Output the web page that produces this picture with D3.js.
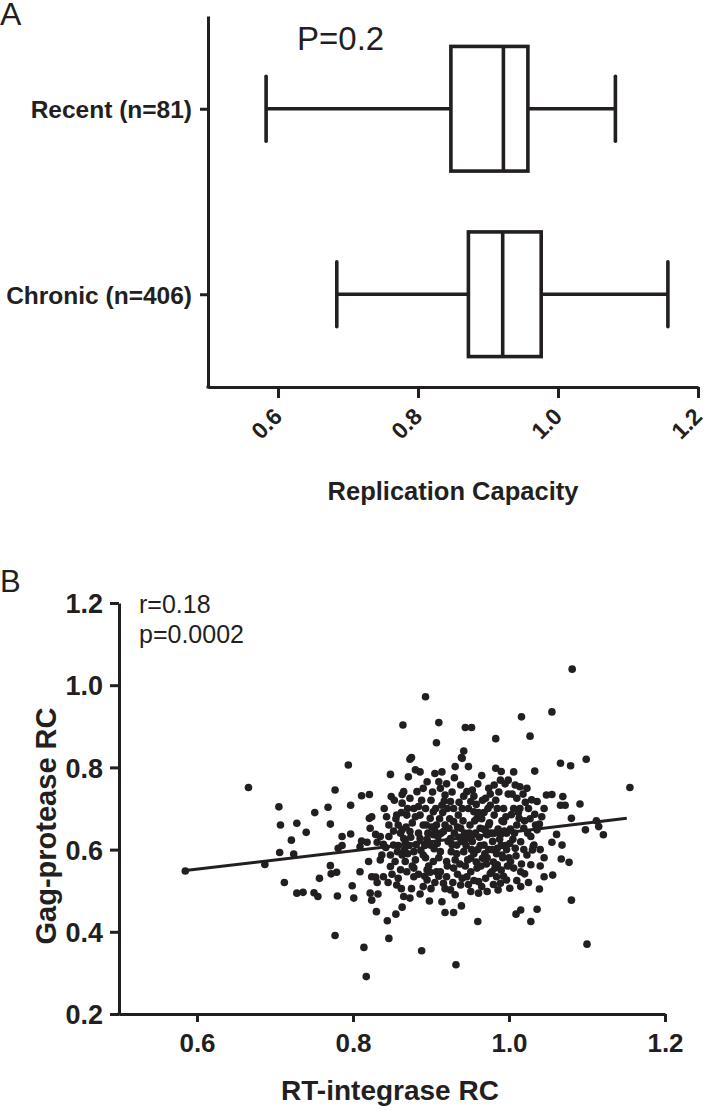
<!DOCTYPE html>
<html>
<head>
<meta charset="utf-8">
<script src="https://cdn.jsdelivr.net/npm/d3@7"></script>
<style>
  html, body { margin: 0; padding: 0; background: #ffffff; }
  svg { display: block; }
  text { font-family: "Liberation Sans", Arial, Helvetica, sans-serif; fill: #231f20; }
</style>
</head>
<body>
<script>
// ---------------- Panel A data (box plots) ----------------
const groups = ["Recent (n=81)", "Chronic (n=406)"];
const whiskerLow  = [0.583, 0.684];
const quartile1   = [0.847, 0.872];
const medians     = [0.922, 0.921];
const quartile3   = [0.957, 0.976];
const whiskerHigh = [1.082, 1.157];
const xTicksA = [0.6, 0.8, 1.0, 1.2];
const pLabelA = "P=0.2";
const xTitleA = "Replication Capacity";

// ---------------- Panel B data (scatter) ----------------
const xTicksB = [0.6, 0.8, 1.0, 1.2];
const yTicksB = [0.2, 0.4, 0.6, 0.8, 1.0, 1.2];
const statsB = ["r=0.18", "p=0.0002"];
const xTitleB = "RT-integrase RC";
const yTitleB = "Gag-protease RC";
// regression line end points [RT-integrase RC, Gag-protease RC]
const fitLine = [[0.585, 0.549], [1.151, 0.676]];
// points: [RT-integrase RC, Gag-protease RC]
const rtVsGag = [
 [0.585,0.548],[0.666,0.751],[0.687,0.564],[0.705,0.704],[0.707,0.660],[0.706,0.593],[0.712,0.520],
 [0.721,0.623],[0.724,0.589],[0.728,0.664],[0.728,0.494],[0.736,0.496],[0.740,0.642],[0.750,0.495],
 [0.755,0.486],[0.751,0.690],[0.757,0.530],[0.768,0.703],[0.771,0.662],[0.771,0.561],[0.777,0.745],
 [0.777,0.391],[0.772,0.541],[0.779,0.545],[0.780,0.487],[0.781,0.603],[0.786,0.610],[0.786,0.632],
 [0.794,0.806],[0.797,0.708],[0.797,0.638],[0.799,0.512],[0.801,0.482],[0.809,0.607],[0.809,0.546],
 [0.811,0.731],[0.811,0.621],[0.814,0.362],[0.817,0.291],[0.818,0.618],[0.820,0.571],[0.821,0.734],
 [0.821,0.676],[0.822,0.652],[0.822,0.494],[0.824,0.680],[0.824,0.534],[0.824,0.477],[0.829,0.637],
 [0.829,0.533],[0.830,0.449],[0.831,0.618],[0.831,0.520],[0.832,0.492],[0.835,0.632],[0.837,0.587],
 [0.839,0.613],[0.839,0.534],[0.843,0.680],[0.844,0.427],[0.846,0.660],[0.846,0.632],[0.846,0.384],
 [0.848,0.783],[0.848,0.587],[0.848,0.559],[0.849,0.729],[0.852,0.611],[0.854,0.571],[0.855,0.443],
 [0.856,0.684],[0.856,0.514],[0.863,0.734],[0.863,0.713],[0.863,0.648],[0.863,0.587],[0.861,0.551],
 [0.867,0.619],[0.863,0.460],[0.865,0.486],[0.873,0.482],[0.886,0.492],[0.898,0.475],[0.914,0.473],
 [0.918,0.447],[0.929,0.447],[0.939,0.463],[0.888,0.354],[0.932,0.320],[0.960,0.425],[1.009,0.443],
 [1.015,0.453],[1.028,0.425],[1.036,0.455],[1.080,0.477],[1.100,0.370],[1.039,0.504],[1.020,0.541],
 [1.045,0.534],[1.056,0.538],
 [0.869,0.546],[0.878,0.534],[0.895,0.526],[0.907,0.546],[0.920,0.534],[0.916,0.518],[0.925,0.502],
 [0.931,0.490],[0.938,0.514],[0.946,0.534],[0.951,0.498],[0.961,0.494],[0.961,0.522],[0.972,0.498],
 [0.976,0.542],[0.984,0.534],[0.986,0.502],[0.989,0.518],[0.997,0.526],[1.001,0.506],
 [1.081,1.039],[0.893,0.972],[0.864,0.903],[0.910,0.909],[0.944,0.897],[0.952,0.897],[0.907,0.860],
 [1.016,0.923],[1.055,0.935],[0.983,0.870],[1.027,0.876],[0.942,0.840],[0.939,0.824],[0.875,0.824],
 [1.155,0.751],[1.066,0.810],[1.079,0.804],[1.099,0.820],[1.033,0.791],[1.048,0.733],[1.055,0.734],
 [1.069,0.729],[1.072,0.708],[1.066,0.708],[1.091,0.711],[1.080,0.676],[1.112,0.670],[1.115,0.656],
 [1.098,0.648],[1.121,0.636],[1.061,0.637],[1.055,0.618],[1.068,0.611],[1.067,0.577],[1.077,0.569],
 [1.033,0.686],[1.029,0.721],[1.036,0.717],
 [1.023,0.749],[1.014,0.753],[1.008,0.757],[0.999,0.769],[1.006,0.789],[0.983,0.798],[0.989,0.769],
 [0.981,0.757],[1.010,0.725],[1.006,0.700],[1.014,0.700],[1.013,0.676],[1.010,0.660],[1.019,0.652],
 [1.034,0.660],[1.036,0.648],[1.028,0.632],[1.032,0.611],[1.023,0.587],[1.030,0.599],[1.028,0.563],
 [1.015,0.619],[1.008,0.603],[1.002,0.571],[1.006,0.555],[1.015,0.546],[0.993,0.668],[0.989,0.636],
 [0.985,0.603],[0.991,0.587],[0.985,0.563],[0.978,0.546],[0.974,0.749],[0.970,0.725],[0.976,0.708],
 [0.981,0.684],[0.974,0.660],[0.972,0.636],[0.968,0.611],[0.966,0.579],[0.959,0.555],[0.951,0.546],
 [0.948,0.802],[0.940,0.822],[0.931,0.802],[0.914,0.789],[0.910,0.765],[0.912,0.749],[0.918,0.733],
 [0.925,0.717],[0.929,0.700],[0.935,0.684],[0.938,0.757],[0.946,0.741],[0.951,0.717],[0.955,0.692],
 [0.959,0.676],[0.963,0.652],[0.914,0.708],[0.903,0.692],[0.899,0.676],[0.907,0.660],[0.916,0.644],
 [0.925,0.627],[0.933,0.611],[0.942,0.595],[0.951,0.579],[0.946,0.627],[0.938,0.652],[0.929,0.668],
 [0.873,0.820],[0.880,0.794],[0.886,0.789],[0.871,0.777],[0.865,0.741],[0.873,0.725],[0.882,0.741],
 [0.890,0.749],[0.878,0.700],[0.869,0.684],[0.886,0.684],[0.894,0.660],[0.903,0.636],[0.899,0.611],
 [0.886,0.627],[0.873,0.644],[0.865,0.627],[0.878,0.595],[0.890,0.587],[0.903,0.571],[0.912,0.595],
 [0.920,0.571],[0.929,0.555],[0.912,0.546],[0.895,0.551],[0.878,0.555],[0.867,0.571],
 [0.870,0.700],[0.876,0.665],[0.884,0.640],[0.892,0.610],[0.880,0.575],[0.893,0.700],[0.900,0.720],
 [0.905,0.645],[0.908,0.615],[0.897,0.560],[0.910,0.580],[0.915,0.690],[0.918,0.660],[0.922,0.620],
 [0.921,0.560],[0.927,0.740],[0.930,0.640],[0.933,0.590],[0.936,0.715],[0.937,0.565],[0.941,0.670],
 [0.943,0.640],[0.945,0.610],[0.948,0.700],[0.950,0.660],[0.952,0.600],[0.955,0.730],[0.957,0.640],
 [0.958,0.570],[0.961,0.690],[0.963,0.610],[0.965,0.675],[0.967,0.650],[0.969,0.590],[0.971,0.565],
 [0.973,0.700],[0.977,0.640],[0.979,0.620],[0.980,0.570],[0.983,0.720],[0.986,0.650],[0.988,0.625],
 [0.990,0.550],[0.993,0.700],[0.995,0.610],[0.997,0.640],[0.999,0.735],[1.000,0.580],[1.003,0.685],
 [1.005,0.625],[0.862,0.690],[0.866,0.600],[0.872,0.610],[0.888,0.720],[0.895,0.625],[0.906,0.700],
 [0.913,0.640],[0.924,0.675],[0.926,0.595],[0.934,0.655],[0.939,0.620],[0.947,0.575],[0.953,0.745],
 [0.960,0.600],[0.974,0.600],[0.976,0.735],[0.984,0.590],[0.991,0.670],[0.997,0.600],[1.002,0.650],
 [0.840,0.700],[0.853,0.720],[0.858,0.660],[0.852,0.645],[0.842,0.605],[0.857,0.595],[0.835,0.575],
 [0.850,0.540],[0.858,0.530],[0.845,0.520],[0.862,0.505],[0.875,0.505],[0.890,0.510],[0.905,0.520],
 [0.918,0.505],[1.040,0.600],[1.045,0.580],[1.040,0.560],[1.025,0.520],[1.015,0.510],[1.010,0.525],
 [1.020,0.670],[1.042,0.680],[1.045,0.700],[1.025,0.700],[1.018,0.735],[1.039,0.662],[1.031,0.608],
 [0.868,0.655],[0.874,0.630],[0.881,0.612],[0.887,0.598],[0.893,0.580],[0.899,0.545],[0.904,0.602],
 [0.909,0.632],[0.911,0.675],[0.917,0.718],[0.921,0.700],[0.923,0.652],[0.927,0.612],[0.931,0.575],
 [0.934,0.540],[0.936,0.630],[0.940,0.700],[0.942,0.730],[0.944,0.560],[0.949,0.640],[0.953,0.620],
 [0.955,0.590],[0.956,0.670],[0.958,0.710],[0.962,0.630],[0.964,0.560],[0.966,0.720],[0.968,0.690],
 [0.970,0.645],[0.972,0.580],[0.975,0.665],[0.978,0.600],[0.981,0.640],[0.982,0.555],[0.985,0.700],
 [0.987,0.740],[0.990,0.610],[0.992,0.580],[0.994,0.645],[0.996,0.680],[0.998,0.560],[1.001,0.615],
 [1.004,0.735],[1.007,0.640],[1.009,0.585],[1.012,0.690],[1.016,0.565],[1.019,0.600],[1.021,0.715],
 [1.024,0.640],[1.027,0.675],[0.880,0.680],[0.884,0.705],[0.890,0.660],[0.896,0.640],[0.901,0.655],
 [0.858,0.610],[0.861,0.640],[0.855,0.675],[0.870,0.590],[0.876,0.560],[0.884,0.540],[0.892,0.535],
 [0.900,0.505],[0.910,0.535],[0.928,0.520],[0.940,0.530],[0.948,0.515],[0.955,0.525],[0.965,0.510],
 [0.970,0.530],[0.980,0.515],[0.993,0.535],[0.902,0.740],[0.895,0.765],[0.905,0.785],[0.920,0.760],
 [0.930,0.775],[0.960,0.760],[0.965,0.780],[0.995,0.760],[0.990,0.790]
];

// ---------------- Drawing ----------------
const W = 705, H = 1112;
const ink = "#231f20";
const svg = d3.select("body").append("svg").attr("width", W).attr("height", H);

// ===== Panel A =====
const xA = d3.scaleLinear().domain([0.5, 1.2]).range([208, 698]);
const yA = d3.scalePoint().domain(groups).range([16, 387]).padding(0.5);
const step = yA.step();
const boxH = step * 0.672, capH = step * 0.35;

const gA = svg.append("g");
const yAxisA = gA.append("g").attr("transform", `translate(${xA.range()[0]},0)`)
  .call(d3.axisLeft(yA).tickSize(8).tickSizeOuter(0).tickPadding(8));
yAxisA.selectAll("text").style("font-size", "24.5px").style("font-weight", "bold").attr("dy", "0.36em");
const xAxisA = gA.append("g").attr("transform", `translate(0,${yA.range()[1]})`)
  .call(d3.axisBottom(xA).tickValues(xTicksA).tickFormat(d3.format(".1f")).tickSize(11).tickSizeOuter(0));
xAxisA.selectAll("text")
  .style("font-size", "23px").style("font-weight", "bold")
  .attr("text-anchor", "end").attr("x", 0).attr("y", 0).attr("dy", 0)
  .attr("transform", "translate(5,31) rotate(-45)");
[yAxisA, xAxisA].forEach(a => {
  a.select(".domain").attr("stroke", ink).attr("stroke-width", 3);
  a.selectAll(".tick line").attr("stroke", ink).attr("stroke-width", 3);
});
gA.append("line").attr("x1", xA.range()[0] - 1.5).attr("x2", xA.range()[0] + 2)
  .attr("y1", yA.range()[1]).attr("y2", yA.range()[1]).attr("stroke", ink).attr("stroke-width", 3);

groups.forEach((g, i) => {
  const cy = yA(g);
  const ln = (x1, y1, x2, y2) => gA.append("line").attr("x1", x1).attr("y1", y1).attr("x2", x2).attr("y2", y2)
      .attr("stroke", ink).attr("stroke-width", 3.6);
  ln(xA(whiskerLow[i]), cy, xA(quartile1[i]), cy);
  ln(xA(quartile3[i]), cy, xA(whiskerHigh[i]), cy);
  ln(xA(whiskerLow[i]), cy - capH / 2, xA(whiskerLow[i]), cy + capH / 2).attr("stroke-linecap", "round");
  ln(xA(whiskerHigh[i]), cy - capH / 2, xA(whiskerHigh[i]), cy + capH / 2).attr("stroke-linecap", "round");
  gA.append("rect").attr("x", xA(quartile1[i])).attr("y", cy - boxH / 2)
    .attr("width", xA(quartile3[i]) - xA(quartile1[i])).attr("height", boxH)
    .attr("fill", "#fff").attr("stroke", ink).attr("stroke-width", 3.6);
  ln(xA(medians[i]), cy - boxH / 2, xA(medians[i]), cy + boxH / 2);
});

gA.append("text").attr("x", 297).attr("y", 50).style("font-size", "33px").text(pLabelA);
gA.append("text").attr("x", 453).attr("y", 500).attr("text-anchor", "middle")
  .style("font-size", "25.5px").style("font-weight", "bold").text(xTitleA);
svg.append("text").attr("x", 0).attr("y", 25).style("font-size", "32px").text("A");

// ===== Panel B =====
const xB = d3.scaleLinear().domain([0.5, 1.2]).range([119, 665]);
const yB = d3.scaleLinear().domain([0.2, 1.2]).range([1014, 603]);
const gB = svg.append("g");

const yAxisB = gB.append("g").attr("transform", `translate(${xB.range()[0]},0)`)
  .call(d3.axisLeft(yB).tickValues(yTicksB).tickFormat(d3.format(".1f")).tickSize(9).tickSizeOuter(0).tickPadding(7));
yAxisB.selectAll("text").style("font-size", "27px").style("font-weight", "bold").attr("dy", "0.36em");
const xAxisB = gB.append("g").attr("transform", `translate(0,${yB.range()[0]})`)
  .call(d3.axisBottom(xB).tickValues(xTicksB).tickFormat(d3.format(".1f")).tickSize(8).tickSizeOuter(0).tickPadding(12));
xAxisB.selectAll("text").style("font-size", "26px").style("font-weight", "bold").attr("dy", "0.71em");
[yAxisB, xAxisB].forEach(a => {
  a.select(".domain").attr("stroke", ink).attr("stroke-width", 3);
  a.selectAll(".tick line").attr("stroke", ink).attr("stroke-width", 3);
});
gB.append("line").attr("x1", xB.range()[0] - 1.5).attr("x2", xB.range()[0] + 2)
  .attr("y1", yB.range()[0]).attr("y2", yB.range()[0]).attr("stroke", ink).attr("stroke-width", 3);

gB.append("g").selectAll("circle").data(rtVsGag).join("circle")
  .attr("cx", d => xB(d[0])).attr("cy", d => yB(d[1])).attr("r", 3.8).attr("fill", ink);

gB.append("path").datum(fitLine)
  .attr("d", d3.line().x(d => xB(d[0])).y(d => yB(d[1])))
  .attr("stroke", ink).attr("stroke-width", 3).attr("fill", "none");

gB.append("text").attr("x", 139).attr("y", 613).style("font-size", "25px").text(statsB[0]);
gB.append("text").attr("x", 139).attr("y", 643).style("font-size", "25px").text(statsB[1]);
gB.append("text").attr("x", 390).attr("y", 1100).attr("text-anchor", "middle")
  .style("font-size", "28px").style("font-weight", "bold").text(xTitleB);
gB.append("text").attr("transform", "translate(56,826) rotate(-90)").attr("text-anchor", "middle")
  .style("font-size", "29px").style("font-weight", "bold").text(yTitleB);
svg.append("text").attr("x", 0).attr("y", 592).style("font-size", "31px").text("B");
</script>
</body>
</html>
